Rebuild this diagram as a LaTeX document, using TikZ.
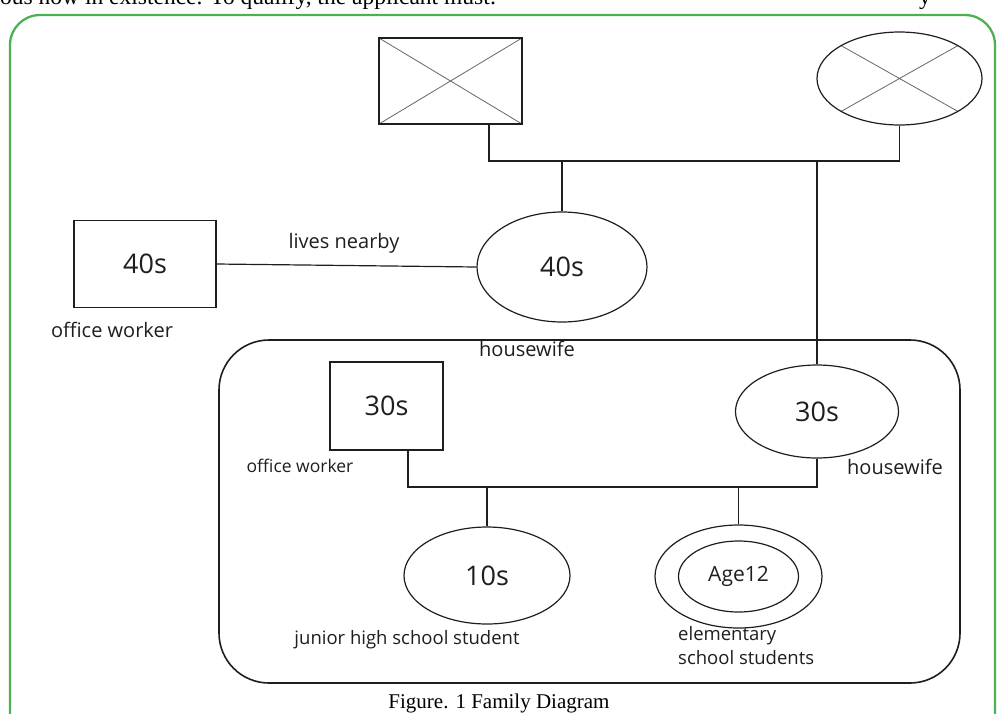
\documentclass[tikz,border=0pt]{standalone}
\usepackage{fontspec}
\setmainfont{Open Sans}
\newfontfamily\capfont{Liberation Serif}
\usetikzlibrary{shapes.geometric}
\definecolor{framegreen}{RGB}{76,178,80}
\definecolor{ink}{RGB}{30,30,30}
\begin{document}
\begin{tikzpicture}[x=1pt,y=-1pt,
  person/.style={draw=ink, line width=1.2pt, inner sep=0pt},
  male/.style={person, rectangle},
  female/.style={person, ellipse},
  deceased/.style={path picture={\draw[black!60,line width=0.8pt]
      (path picture bounding box.north west)--(path picture bounding box.south east)
      (path picture bounding box.north east)--(path picture bounding box.south west);}},
  age/.style={font=\fontsize{27}{30}\selectfont, text=ink},
  lbl/.style={font=\fontsize{18.5}{21}\selectfont, text=ink, inner sep=0pt},
  biglbl/.style={lbl, font=\fontsize{20}{23}\selectfont},
  midlbl/.style={lbl, font=\fontsize{17.5}{20}\selectfont},
  link/.style={draw=ink, line width=1.2pt},
]
\useasboundingbox (0,0) rectangle (998,713);
\begin{scope}
  \clip (0,0) rectangle (998,713);
  \draw[framegreen, line width=2.3pt, rounded corners=30pt] (10,15) rectangle (995,745);
  \node[anchor=base west, inner sep=0pt, font=\capfont\fontsize{23.5}{26}\selectfont] (toptext) at (0,4) {ous now in existence. To qualify, the applicant must:};
  \node[anchor=base, inner sep=0pt, font=\capfont\fontsize{23.5}{26}\selectfont] (topy) at (925,4) {y};
\end{scope}

% household frame
\draw[ink, line width=1.6pt, rounded corners=50pt] (219,340) rectangle (960,683);

% grandparents (deceased)
\node[male, deceased, minimum width=143pt, minimum height=86pt] (gf) at (450.5,81) {};
\node[female, deceased, minimum width=165pt, minimum height=93pt] (gm) at (899.5,78.5) {};

% 40s generation
\node[male, minimum width=142pt, minimum height=87pt, age] (uncle) at (145,264) {40s};
\node[female, minimum width=170pt, minimum height=110pt, age] (aunt) at (562,267) {40s};

% 30s generation
\node[male, minimum width=113pt, minimum height=88pt, age] (father) at (386.5,406) {30s};
\node[female, minimum width=163pt, minimum height=93pt, age] (mother) at (817,411.5) {30s};

% children
\node[female, minimum width=166pt, minimum height=97pt, age] (teen) at (487,575.5) {10s};
\node[female, minimum width=167pt, minimum height=103pt] (child) at (738.5,576.5) {};
\node[female, minimum width=120pt, minimum height=71pt, font=\fontsize{21}{24}\selectfont, text=ink] (childin) at (738.5,576.5) {Age12};

% labels
\node[biglbl] (l1) at (344,243) {lives nearby};
\node[biglbl] (l2) at (112,330) {office worker};
\node[biglbl] (l3) at (527,349) {housewife};
\node[midlbl] (l4) at (300,466) {office worker};
\node[biglbl] (l5) at (895,467) {housewife};
\node[lbl] (l6) at (407,640) {junior high school student};
\node[lbl, align=left, anchor=north west, font=\fontsize{18.5}{24}\selectfont] (l7) at (678,626) {elementary\\school students};
\node[inner sep=0pt, font=\capfont\fontsize{21}{24}\selectfont] (cap) at (499,703) {Figure. 1 Family Diagram};

% connectors
\coordinate (m1) at (489,161);
\draw[link] (gf.south -| m1) -- (m1) -- (m1 -| gm.south) -- (gm.south);
\draw[link] (aunt.north |- m1) -- (aunt.north);
\draw[link] (mother.north |- m1) -- (mother.north);
\draw[link] (uncle.east) -- (aunt.west);

\coordinate (m2) at (408,487);
\draw[link] (father.south -| m2) -- (m2) -- (m2 -| mother.south) -- (mother.south);
\draw[link] (teen.north |- m2) -- (teen.north);
\draw[link] (child.north |- m2) -- (child.north);
\end{tikzpicture}
\end{document}
